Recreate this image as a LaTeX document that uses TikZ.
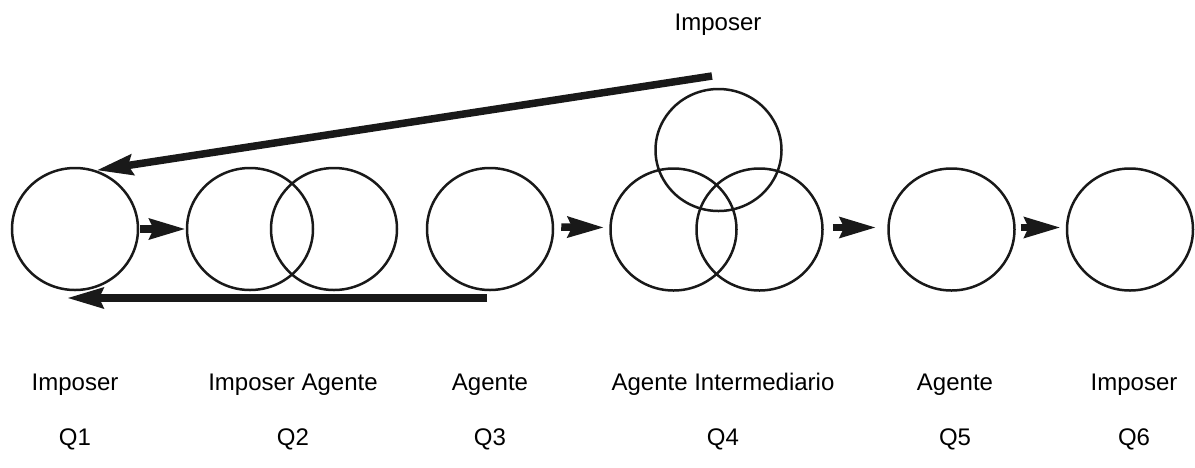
\documentclass[tikz,border=0pt]{standalone}
\usepackage{fontspec}
\setmainfont{Liberation Sans}
\usetikzlibrary{arrows.meta,shapes.geometric}
\begin{document}
\begin{tikzpicture}[x=1pt,y=-1pt,
  circ/.style={draw=black!90,line width=2.5pt,ellipse,minimum width=126pt,minimum height=122pt,inner sep=0pt},
  arr/.style={line width=7.5pt,draw=black!90,-{Stealth[length=36pt,width=20pt,inset=4pt]}},
  lbl/.style={anchor=base,font=\fontsize{24}{28}\selectfont,text=black,inner sep=0pt}]
\useasboundingbox (0,0) rectangle (1195,467);
% circles
\node[circ] (q1) at (75,229) {};
\node[circ] (q2a) at (250,229) {};
\node[circ] (q2b) at (334,229) {};
\node[circ] (q3) at (490,229) {};
\node[circ] (q4a) at (673.5,229.5) {};
\node[circ] (q4b) at (759.5,229.5) {};
\node[circ] (q4c) at (718.5,150) {};
\node[circ] (q5) at (951.5,229.5) {};
\node[circ] (q6) at (1130,229.5) {};
% free ends
\coordinate (topstart) at (712,76);
\coordinate (botstart) at (487,298);
\coordinate (botend) at (67,298);
% arrows
\draw[arr] ([xshift=1pt]q1.east) -- (q2a.west);
\draw[arr] ([xshift=7pt,yshift=2pt]q3.east) -- ([xshift=-5pt,yshift=2pt]q4a.west);
\draw[arr] ([xshift=9pt,yshift=2pt]q4b.east) -- ([xshift=-11pt,yshift=2pt]q5.west);
\draw[arr] ([xshift=5pt,yshift=2pt]q5.east) -- ([xshift=-5pt,yshift=2pt]q6.west);
\draw[arr] (topstart) -- (q1.70);
\draw[arr] (botstart) -- (botend);
% labels
\node[lbl] (t4) at (718,30) {Imposer};
\node[lbl] (l1) at (75,390) {Imposer};
\node[lbl] (l2) at (293,390) {Imposer Agente};
\node[lbl] (l3) at (490,390) {Agente};
\node[lbl] (l4) at (723,390) {Agente Intermediario};
\node[lbl] (l5) at (955,390) {Agente};
\node[lbl] (l6) at (1134,390) {Imposer};
\node[lbl] (n1) at (75,445) {Q1};
\node[lbl] (n2) at (293,445) {Q2};
\node[lbl] (n3) at (490,445) {Q3};
\node[lbl] (n4) at (723,445) {Q4};
\node[lbl] (n5) at (955,445) {Q5};
\node[lbl] (n6) at (1134,445) {Q6};
\end{tikzpicture}
\end{document}
